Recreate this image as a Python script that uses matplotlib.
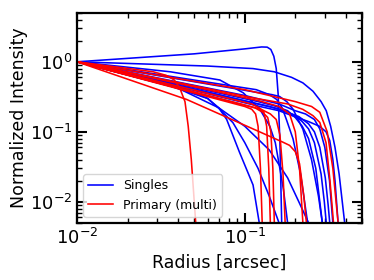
import matplotlib
matplotlib.use("Agg")
import matplotlib.pyplot as plt

# radius [arcsec] / normalized intensity
singles_r = [
    [0.01, 0.05, 0.1, 0.126, 0.136, 0.143, 0.149, 0.154, 0.158, 0.162, 0.166],
    [0.01, 0.06, 0.112, 0.15, 0.19, 0.222, 0.255, 0.285, 0.306, 0.325, 0.345, 0.365, 0.394],
    [0.01, 0.08, 0.117, 0.14, 0.155, 0.167, 0.177, 0.194, 0.215, 0.237],
    [0.01, 0.045, 0.06, 0.07, 0.078, 0.093, 0.112, 0.122],
    [0.01, 0.04, 0.07, 0.1, 0.14, 0.18, 0.21, 0.24],
    [0.01, 0.12, 0.15, 0.18, 0.2, 0.22, 0.24, 0.265, 0.28, 0.29],
    [0.01, 0.14, 0.17, 0.2, 0.22, 0.24, 0.26, 0.285, 0.298, 0.306],
    [0.01, 0.15, 0.18, 0.21, 0.24, 0.26, 0.28, 0.302, 0.314, 0.321],
    [0.01, 0.1, 0.16, 0.2, 0.23, 0.26, 0.28, 0.3, 0.32, 0.335],
    [0.01, 0.036, 0.071, 0.098, 0.123, 0.141, 0.152, 0.16, 0.17, 0.18],
    [0.01, 0.123, 0.145, 0.161, 0.178, 0.194, 0.222, 0.25, 0.275, 0.29],
    [0.01, 0.123, 0.16, 0.194, 0.24, 0.279, 0.305, 0.321, 0.335, 0.345, 0.36],
    [0.01, 0.036, 0.06, 0.071, 0.085, 0.1, 0.12, 0.14, 0.16],
]
singles_i = [
    [1, 1.3, 1.53, 1.63, 1.62, 1.5, 1.2, 0.8, 0.35, 0.07, 0.005],
    [1, 0.87, 0.8, 0.72, 0.6, 0.5, 0.38, 0.27, 0.2, 0.12, 0.06, 0.025, 0.005],
    [1, 0.46, 0.4, 0.34, 0.29, 0.22, 0.15, 0.079, 0.025, 0.005],
    [1, 0.4, 0.3, 0.22, 0.15, 0.051, 0.0174, 0.005],
    [1, 0.42, 0.22, 0.12, 0.055, 0.022, 0.01, 0.005],
    [1, 0.27, 0.235, 0.2, 0.16, 0.12, 0.08, 0.03, 0.01, 0.005],
    [1, 0.23, 0.2, 0.17, 0.14, 0.11, 0.07, 0.025, 0.01, 0.005],
    [1, 0.22, 0.19, 0.165, 0.13, 0.1, 0.06, 0.022, 0.009, 0.005],
    [1, 0.33, 0.25, 0.2, 0.18, 0.15, 0.11, 0.06, 0.02, 0.005],
    [1, 0.72, 0.55, 0.36, 0.21, 0.12, 0.07, 0.035, 0.015, 0.005],
    [1, 0.36, 0.34, 0.32, 0.27, 0.21, 0.109, 0.04, 0.012, 0.005],
    [1, 0.23, 0.2, 0.168, 0.14, 0.12, 0.1, 0.075, 0.04, 0.02, 0.005],
    [1, 0.45, 0.3, 0.21, 0.135, 0.07, 0.03, 0.012, 0.005],
]

primary_r = [
    [0.01, 0.0285, 0.034, 0.038, 0.041, 0.044, 0.046, 0.048, 0.051],
    [0.01, 0.1, 0.11, 0.116, 0.12, 0.124, 0.127],
    [0.01, 0.11, 0.122, 0.13, 0.135, 0.139, 0.142],
    [0.01, 0.115, 0.128, 0.137, 0.143, 0.147, 0.15],
    [0.01, 0.125, 0.142, 0.154, 0.162, 0.169, 0.174],
    [0.01, 0.112, 0.18, 0.222, 0.255, 0.28, 0.305, 0.322, 0.338],
    [0.01, 0.045, 0.169, 0.185, 0.2, 0.212, 0.225, 0.233],
    [0.01, 0.12, 0.16, 0.185, 0.2, 0.212, 0.222],
    [0.01, 0.1, 0.2, 0.25, 0.28, 0.31, 0.335, 0.36],
]
primary_i = [
    [1, 0.72, 0.64, 0.55, 0.42, 0.27, 0.12, 0.04, 0.005],
    [1, 0.23, 0.21, 0.18, 0.12, 0.03, 0.005],
    [1, 0.25, 0.22, 0.19, 0.12, 0.03, 0.005],
    [1, 0.22, 0.19, 0.16, 0.1, 0.03, 0.005],
    [1, 0.21, 0.18, 0.15, 0.09, 0.025, 0.005],
    [1, 0.305, 0.25, 0.209, 0.17, 0.136, 0.07, 0.02, 0.005],
    [1, 0.29, 0.071, 0.064, 0.052, 0.035, 0.012, 0.005],
    [1, 0.28, 0.23, 0.18, 0.1, 0.03, 0.005],
    [1, 0.4, 0.27, 0.23, 0.19, 0.1, 0.03, 0.005],
]

fig = plt.figure(figsize=(3.74, 2.8), dpi=100)
ax = fig.add_axes([0.206, 0.204, 0.762, 0.75])

for k in range(len(singles_r)):
    lab = "Singles" if k == 0 else None
    ax.loglog(singles_r[k], singles_i[k], color="blue", lw=1.15, label=lab)
for k in range(len(primary_r)):
    lab = "Primary (multi)" if k == 0 else None
    ax.loglog(primary_r[k], primary_i[k], color="red", lw=1.15, label=lab)

ax.set_xlim(0.01, 0.5)
ax.set_ylim(5e-3, 5)
ax.set_xlabel("Radius [arcsec]", fontsize=12.5)
ax.set_ylabel("Normalized Intensity", fontsize=12.5, labelpad=1)

for s in ax.spines.values():
    s.set_linewidth(1.6)
ax.tick_params(which="both", direction="in", top=True, right=True, labelsize=13)
ax.tick_params(which="major", length=7, width=1.5)
ax.tick_params(which="minor", length=3.5, width=1.0)

ax.legend(loc="lower left", fontsize=9)

fig.savefig("out.png", dpi=100)
